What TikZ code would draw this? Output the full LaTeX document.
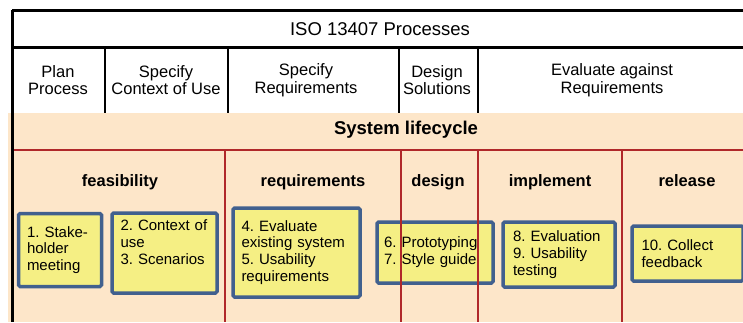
\documentclass[tikz,border=0pt]{standalone}
\usepackage{fontspec}
\setmainfont{Liberation Sans}
\usepackage{tikz}
\frenchspacing

\definecolor{peach}{HTML}{FDE6C9}
\definecolor{notey}{HTML}{F5EF84}
\definecolor{noteb}{HTML}{41608E}
\definecolor{lifered}{HTML}{B0282A}

\tikzset{
	note/.style={draw=noteb, line width=3.5pt, fill=notey, rounded corners=1.5pt, align=left, inner sep=0pt, font=\fontsize{15}{16.8}\selectfont},
	proc/.style={align=center, font=\fontsize{16.5}{17.5}\selectfont},
	phase/.style={anchor=base, font=\fontsize{16.5}{18}\selectfont\bfseries}
}

\begin{document}
\begin{tikzpicture}[x=1pt, y=-1pt]
	\useasboundingbox (0,0) rectangle (743,322);
	\fill[peach] (8,113) rectangle (743,322);
	
	\node[font=\fontsize{18.5}{20}\selectfont] (iso) at (380,29) {ISO 13407 Processes};
	\node[proc] (plan) at (58,80) {Plan\\Process};
	\node[proc] (context) at (166,80) {Specify\\Context of Use};
	\node[proc] (req) at (306,80) {Specify\\Requirements};
	\node[proc] (designsol) at (437,80) {Design\\Solutions};
	\node[proc] (evalreq) at (612,80) {Evaluate against\\Requirements};
	
	\node[font=\fontsize{18.5}{20}\selectfont\bfseries] (life) at (406,130) {System lifecycle};
	
	\node[phase] (feas) at (120,186) {feasibility};
	\node[phase] (requ) at (313,186) {requirements};
	\node[phase] (des) at (438,186) {design};
	\node[phase] (impl) at (550,186) {implement};
	\node[phase] (rel) at (687,186) {release};
	
	\node[note, minimum width=83pt, minimum height=73pt, text width=66pt] (n1) at (60,250) {1. Stake-\\holder\\meeting};
	\node[note, minimum width=105pt, minimum height=80pt, text width=88pt] (n2) at (164.5,253) {2. Context of\\use\\3. Scenarios\\\strut};
	\node[note, minimum width=127pt, minimum height=89pt, text width=110pt] (n3) at (296.5,252.5) {4. Evaluate\\existing system\\5. Usability\\requirements};
	\node[note, minimum width=116pt, minimum height=61pt, text width=102pt] (n4) at (435,252.5) {6. Prototyping\\7. Style guide};
	\node[note, minimum width=112pt, minimum height=65pt, text width=92pt] (n5) at (559,254.5) {8. Evaluation\\9. Usability\\testing};
	\node[note, minimum width=111pt, minimum height=55pt, text width=92pt] (n6) at (687.5,253.5) {10. Collect\\feedback};
	
	\coordinate (r0) at (13,150);
	\coordinate (r1) at (743,150);
	\coordinate (a) at (225,150);
	\coordinate (a') at (225,322);
	\coordinate (b) at (401,150);
	\coordinate (b') at (401,322);
	\coordinate (c) at (478,150);
	\coordinate (c') at (478,322);
	\coordinate (d) at (622,150);
	\coordinate (d') at (622,322);
	\path [-, draw=lifered, line width=1.3pt] (r0) edge (r1);
	\path [-, draw=lifered, line width=1.3pt] (a) edge (a');
	\path [-, draw=lifered, line width=1.3pt] (b) edge (b');
	\path [-, draw=lifered, line width=1.3pt] (c) edge (c');
	\path [-, draw=lifered, line width=1.3pt] (d) edge (d');
	
	\coordinate (t0) at (12,10);
	\coordinate (t1) at (743,10);
	\coordinate (m0) at (12,47);
	\coordinate (m1) at (743,47);
	\coordinate (bl) at (12,322);
	\coordinate (v1) at (105,47);
	\coordinate (v1') at (105,113);
	\coordinate (v2) at (228,47);
	\coordinate (v2') at (228,113);
	\coordinate (v3) at (399,47);
	\coordinate (v3') at (399,113);
	\coordinate (v4) at (478,47);
	\coordinate (v4') at (478,113);
	\path [-, draw, line width=3pt] (t0) edge (t1);
	\path [-, draw, line width=3pt] (m0) edge (m1);
	\path [-, draw, line width=3pt] (t0) edge (bl);
	\path [-, draw, line width=2.5pt] (v1) edge (v1');
	\path [-, draw, line width=2.5pt] (v2) edge (v2');
	\path [-, draw, line width=2.5pt] (v3) edge (v3');
	\path [-, draw, line width=2.5pt] (v4) edge (v4');
\end{tikzpicture}
\end{document}
